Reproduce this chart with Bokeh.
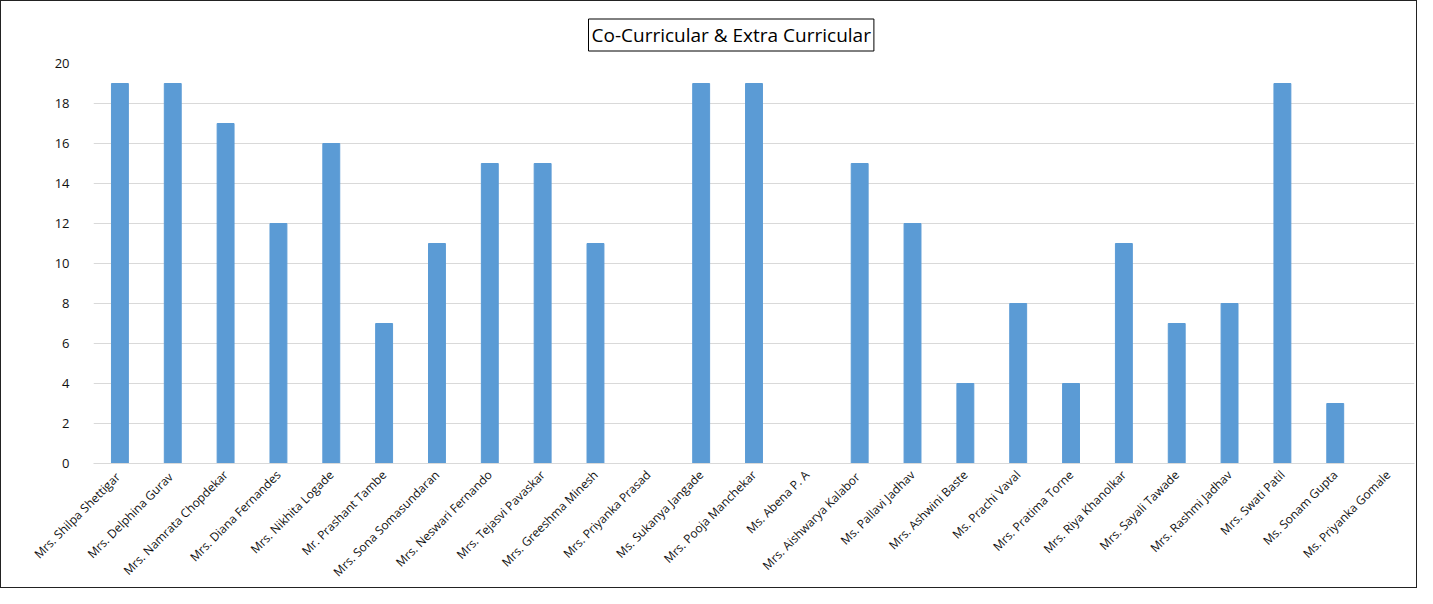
import math
from bokeh.plotting import figure
from bokeh.models import ColumnDataSource, Range1d, FixedTicker, Title
from bokeh.embed import file_html
from bokeh.resources import INLINE

names = [
    "Mrs. Shilpa  Shettigar", "Mrs. Delphina  Gurav", "Mrs. Namrata Chopdekar",
    "Mrs. Diana Fernandes", "Mrs. Nikhita Logade", "Mr. Prashant Tambe",
    "Mrs. Sona Somasundaran", "Mrs. Neswari Fernando", "Mrs. Tejasvi Pavaskar",
    "Mrs. Greeshma Minesh", "Mrs. Priyanka Prasad", "Ms. Sukanya Jangade",
    "Mrs. Pooja Manchekar", "Ms. Abena P. A", "Mrs. Aishwarya  Kalabor",
    "Ms. Pallavi Jadhav", "Mrs. Ashwini Baste", "Ms. Prachi Vaval",
    "Mrs. Pratima Torne", "Mrs. Riya Khanolkar", "Mrs. Sayali Tawade",
    "Mrs. Rashmi Jadhav", "Mrs. Swati Patil", "Ms. Sonam Gupta",
    "Ms. Priyanka Gomale",
]
scores = [19, 19, 17, 12, 16, 7, 11, 15, 15, 11, 0, 19, 19, 0, 15, 12, 4, 8, 4, 11, 7, 8, 19, 3, 0]
y_ticks = [0, 2, 4, 6, 8, 10, 12, 14, 16, 18, 20]

source = ColumnDataSource(data=dict(names=names, scores=scores))

p = figure(
    x_range=names, y_range=Range1d(0, 20),
    width=1417, height=588,
    output_backend="svg", toolbar_location=None,
    min_border_left=92, min_border_right=4, min_border_top=62, min_border_bottom=116,
    styles={"border": "1px solid #222222"},
)
p.title = Title(text="Co-Curricular & Extra Curricular", align="left", offset=495,
                text_font="Open Sans", text_font_size="19px", text_font_style="normal",
                text_color="black", border_line_color="black", border_line_width=1,
                padding=3, standoff=25)

p.vbar(x="names", top="scores", width=0.32, source=source,
       fill_color="#5b9bd5", line_color="#5b9bd5")

p.outline_line_color = None
p.border_fill_color = "white"

p.yaxis.ticker = FixedTicker(ticks=y_ticks)
p.yaxis.axis_line_color = None
p.yaxis.major_tick_line_color = None
p.yaxis.minor_tick_line_color = None
p.yaxis.major_label_text_font = "Open Sans"
p.yaxis.major_label_text_font_size = "13px"
p.yaxis.major_label_text_color = "#111111"
p.yaxis.major_label_standoff = 18

p.xaxis.axis_line_color = "#d9d9d9"
p.xaxis.major_tick_line_color = None
p.xaxis.minor_tick_line_color = None
p.xaxis.major_label_orientation = math.pi / 4
p.xaxis.major_label_text_font = "Open Sans"
p.xaxis.major_label_text_font_size = "12px"
p.xaxis.major_label_text_color = "#111111"
p.xaxis.major_label_standoff = 3

p.xgrid.grid_line_color = None
p.ygrid.grid_line_color = "#d9d9d9"
p.ygrid.grid_line_width = 1

p.x_range.range_padding = 0

open("out.html", "w").write(file_html(p, INLINE))
